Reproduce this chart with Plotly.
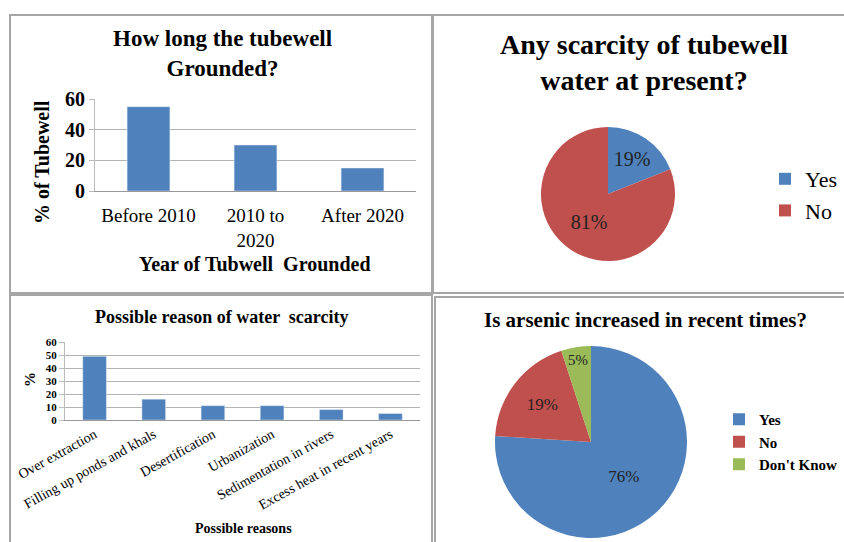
import plotly.graph_objects as go

W, H = 844, 542
FONT = "Liberation Serif"

# ---- data ----
years_cats = ["Before 2010", "2010 to<br>2020", "After 2020"]
years_vals = [55, 30, 15]

scarcity_labels = ["Yes", "No"]
scarcity_vals = [19, 81]

reason_cats = ["Over extraction", "Filling up ponds and khals", "Desertification",
               "Urbanization", "Sedimentation in rivers", "Excess heat in recent years"]
reason_vals = [49, 16, 11, 11, 8, 5]

arsenic_labels = ["Yes", "No", "Don't Know"]
arsenic_vals = [76, 19, 5]

BLUE, RED, GREEN = "#4F81BD", "#C0504D", "#9BBB59"


def px(x):
    return x / W


def py(y):
    return 1 - y / H


fig = go.Figure()

fig.add_trace(go.Bar(x=years_cats, y=years_vals, marker_color=BLUE,
                     xaxis="x", yaxis="y", showlegend=False))
fig.add_trace(go.Bar(x=reason_cats, y=reason_vals, marker_color=BLUE,
                     xaxis="x2", yaxis="y2", showlegend=False))

fig.add_trace(go.Pie(labels=scarcity_labels, values=scarcity_vals, sort=False,
                     direction="clockwise", rotation=0,
                     marker=dict(colors=[BLUE, RED]),
                     texttemplate="%{percent:.0%}", textposition="inside",
                     insidetextorientation="horizontal",
                     textfont=dict(family=FONT, size=20, color="#222"),
                     domain=dict(x=[px(541), px(675)], y=[py(261), py(127)]),
                     legend="legend", hoverinfo="label+percent"))
# trailing space keeps these legend entries separate from the first pie's
fig.add_trace(go.Pie(labels=[lab + " " for lab in arsenic_labels], values=arsenic_vals,
                     sort=False, direction="clockwise", rotation=0,
                     marker=dict(colors=[BLUE, RED, GREEN]),
                     texttemplate="%{percent:.0%}", textposition="inside",
                     insidetextorientation="horizontal",
                     textfont=dict(family=FONT, size=17, color="#222"),
                     domain=dict(x=[px(495), px(687)], y=[py(538), py(346)]),
                     legend="legend2", hoverinfo="label+percent"))

grid = "#b3b3b3"
fig.update_layout(
    width=W, height=H, margin=dict(l=0, r=0, t=0, b=0, autoexpand=False),
    paper_bgcolor="white", plot_bgcolor="white",
    font=dict(family=FONT, color="black"),
    bargap=0.6,
    xaxis=dict(domain=[px(95), px(416)], showline=True, linecolor="#999",
               tickfont=dict(size=19), ticks="", ticklabelstandoff=7,
               fixedrange=True, automargin=False),
    yaxis=dict(domain=[py(191), py(99)], range=[0, 60], dtick=20,
               showgrid=True, gridcolor=grid, showline=True, linecolor="#bbb",
               ticks="outside", ticklen=5, tickcolor="#bbb",
               tickfont=dict(size=20, weight="bold"), automargin=False,
               zeroline=False),
    xaxis2=dict(domain=[px(65), px(420)], anchor="y2", showline=True, linecolor="#999",
                tickangle=-29, tickfont=dict(size=14), ticks="", fixedrange=True,
                automargin=False),
    yaxis2=dict(domain=[py(420), py(342)], anchor="x2", range=[0, 60], dtick=10,
                showgrid=True, gridcolor=grid, showline=True, linecolor="#bbb",
                ticks="outside", ticklen=5, tickcolor="#bbb",
                tickfont=dict(size=11, weight="bold"), automargin=False,
                zeroline=False),
    legend=dict(x=px(765), y=py(158), xanchor="left", yanchor="top",
                font=dict(size=22, family=FONT), bgcolor="rgba(0,0,0,0)",
                tracegroupgap=0),
    legend2=dict(x=px(719), y=py(403), xanchor="left", yanchor="top",
                 font=dict(size=15, family=FONT, weight="bold"),
                 bgcolor="rgba(0,0,0,0)"),
)

# panel borders
bc = "#a6a6a6"
for x0, y0, x1, y1 in [(10, 15, 432, 293), (433, 15, 846, 293),
                       (10, 295, 432, 546), (435, 297, 846, 546)]:
    fig.add_shape(type="rect", xref="paper", yref="paper",
                  x0=px(x0), x1=px(x1), y0=py(y0), y1=py(y1),
                  line=dict(color=bc, width=2), layer="below")


def ann(text, x, y, size, angle=0):
    fig.add_annotation(text=text, x=px(x), y=py(y), xref="paper", yref="paper",
                       showarrow=False, textangle=angle,
                       font=dict(family=FONT, size=size, color="black", weight="bold"),
                       xanchor="center", yanchor="middle")


ann("How long the tubewell<br>Grounded?", 223, 53, 23)
ann("Year of Tubwell  Grounded", 255, 264, 20)
ann("% of Tubewell", 42, 162, 20, angle=-90)

ann("Any scarcity of tubewell<br>water at present?", 644, 62, 28)

ann("Possible reason of water  scarcity", 221, 317, 18)
ann("%", 30, 380, 15, angle=-90)
ann("Possible reasons", 243, 528, 14)

ann("Is arsenic increased in recent times?", 645, 320, 21)

fig.write_html("out.html")
